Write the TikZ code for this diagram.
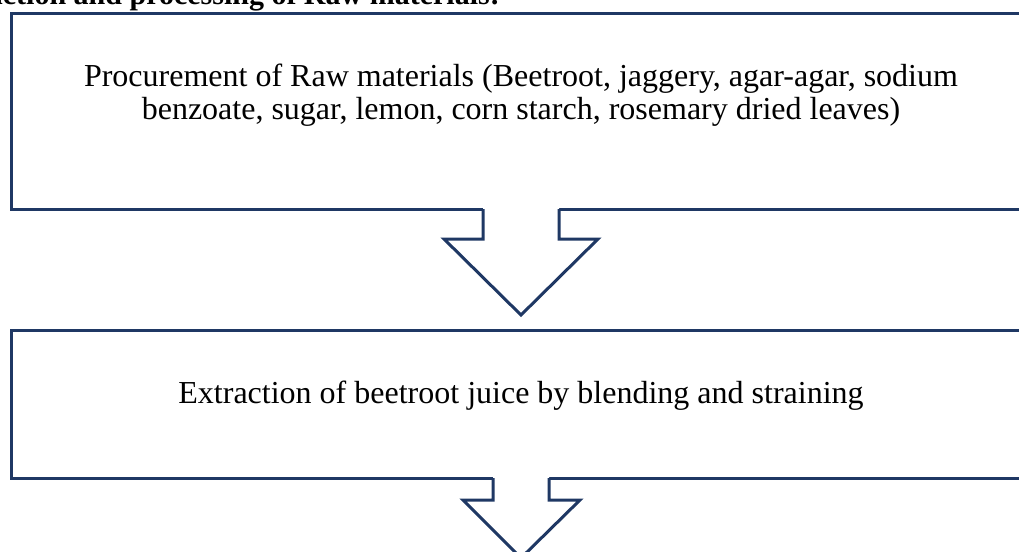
\documentclass[tikz,border=0pt]{standalone}
\usepackage{fontspec}
\setmainfont{Liberation Serif}
\definecolor{navy}{RGB}{31,56,100}
\begin{document}
\begin{tikzpicture}[x=1pt,y=-1pt,
  boxline/.style={draw=navy,line width=3pt,inner sep=0pt},
  txt/.style={font=\fontsize{32}{32.4}\selectfont, align=center, inner sep=0pt},
  arrowline/.style={draw=navy,line width=3pt,line join=miter}]
\useasboundingbox (0,0) rectangle (1019,551);
\clip (0,0) rectangle (1019,551);
\node[anchor=base east, font=\bfseries\fontsize{30}{32}\selectfont, inner sep=0pt] (head) at (500,5) {Extraction and processing of Raw materials:};
% boxes
\node[boxline, minimum width=1022pt, minimum height=196pt, anchor=north west] (b1) at (10,12) {};
\node[boxline, minimum width=1022pt, minimum height=148pt, anchor=north west] (b2) at (10,329) {};
\node[txt, anchor=base] (t1) at (521,119) {Procurement of Raw materials (Beetroot, jaggery, agar-agar, sodium\\benzoate, sugar, lemon, corn starch, rosemary dried leaves)};
\node[txt, anchor=base] (t2) at (521,403) {Extraction of beetroot juice by blending and straining};
% arrow 1
\fill[white] (483,205) -- (483,239) -- (444,239) -- (521,315) -- (598,239) -- (559,239) -- (559,205) -- cycle;
\draw[arrowline] (483,209) -- (483,239) -- (444,239) -- (521,315) -- (598,239) -- (559,239) -- (559,209);
% arrow 2
\fill[white] (493,474) -- (493,500) -- (463,500) -- (521,558) -- (580,500) -- (549,500) -- (549,474) -- cycle;
\draw[arrowline] (493,478) -- (493,500) -- (463,500) -- (521,558) -- (580,500) -- (549,500) -- (549,478);
\end{tikzpicture}
\end{document}
